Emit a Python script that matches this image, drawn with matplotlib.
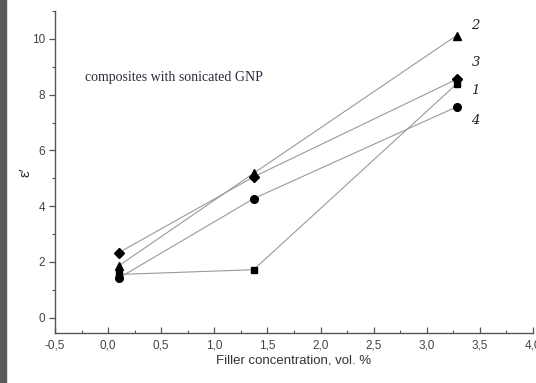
import matplotlib.pyplot as plt
from matplotlib.patches import Rectangle
from matplotlib.ticker import MultipleLocator, FuncFormatter

# ============== Data ================
conc = [0.1, 1.37, 3.28]
eps_1 = [1.55, 1.72, 8.38]   # squares
eps_2 = [1.86, 5.18, 10.12]  # triangles
eps_3 = [2.33, 5.05, 8.55]   # diamonds
eps_4 = [1.42, 4.27, 7.56]   # circles
curve_names = ["1", "2", "3", "4"]
name_y = [8.16, 10.48, 9.16, 7.08]

plt.rcParams.update({
    "font.family": "sans-serif",
    "font.sans-serif": ["Liberation Sans"],
    "font.size": 8.5,
})

fig = plt.figure(figsize=(5.36, 3.83), dpi=100)
ax = fig.add_axes([55 / 536, 1 - 333 / 383, (533 - 55) / 536, (333 - 11) / 383])

# dark strip on the left edge of the scan
fig.patches.append(Rectangle((0, 0), 6 / 536, 1, transform=fig.transFigure,
                             color="#5a5a5a", zorder=0))

line_kw = dict(color="#9a9a9a", lw=0.8)
ax.plot(conc, eps_1, marker="s", ms=5, mfc="black", mec="black", **line_kw)
ax.plot(conc, eps_2, marker="^", ms=5.5, mfc="black", mec="black", **line_kw)
ax.plot(conc, eps_3, marker="D", ms=5, mfc="black", mec="black", **line_kw)
ax.plot(conc, eps_4, marker="o", ms=5.5, mfc="black", mec="black", **line_kw)

for name, yy in zip(curve_names, name_y):
    ax.text(3.42, yy, name, family="DejaVu Serif", style="italic",
            fontsize=9.5, color="#222222", va="center", ha="left")

ax.text(-0.22, 8.6, "composites with sonicated GNP", family="Liberation Serif",
        fontsize=10, color="#2a2a3a", va="center", ha="left")

ax.set_xlim(-0.5, 4.0)
ax.set_ylim(-0.55, 11.0)
ax.xaxis.set_major_locator(MultipleLocator(0.5))
ax.xaxis.set_minor_locator(MultipleLocator(0.25))
ax.yaxis.set_major_locator(MultipleLocator(2))
ax.yaxis.set_minor_locator(MultipleLocator(1))
ax.xaxis.set_major_formatter(FuncFormatter(lambda v, p: "{:.1f}".format(v).replace(".", ",")))

for side in ["top", "right"]:
    ax.spines[side].set_visible(False)
for side in ["left", "bottom"]:
    ax.spines[side].set_color("#555555")
    ax.spines[side].set_linewidth(1.0)

ax.tick_params(axis="x", which="both", direction="in", colors="#555555", labelcolor="#444444", pad=5)
ax.tick_params(axis="y", which="both", direction="out", colors="#555555", labelcolor="#444444", pad=3)
ax.tick_params(which="major", length=4, width=0.9)
ax.tick_params(which="minor", length=2.5, width=0.8)

ax.set_xlabel("Filler concentration, vol. %", fontsize=9.5, color="#333333", labelpad=2)
ax.set_ylabel("ε′", fontsize=11, color="#333333", labelpad=0)

fig.savefig("out.png", dpi=100)
